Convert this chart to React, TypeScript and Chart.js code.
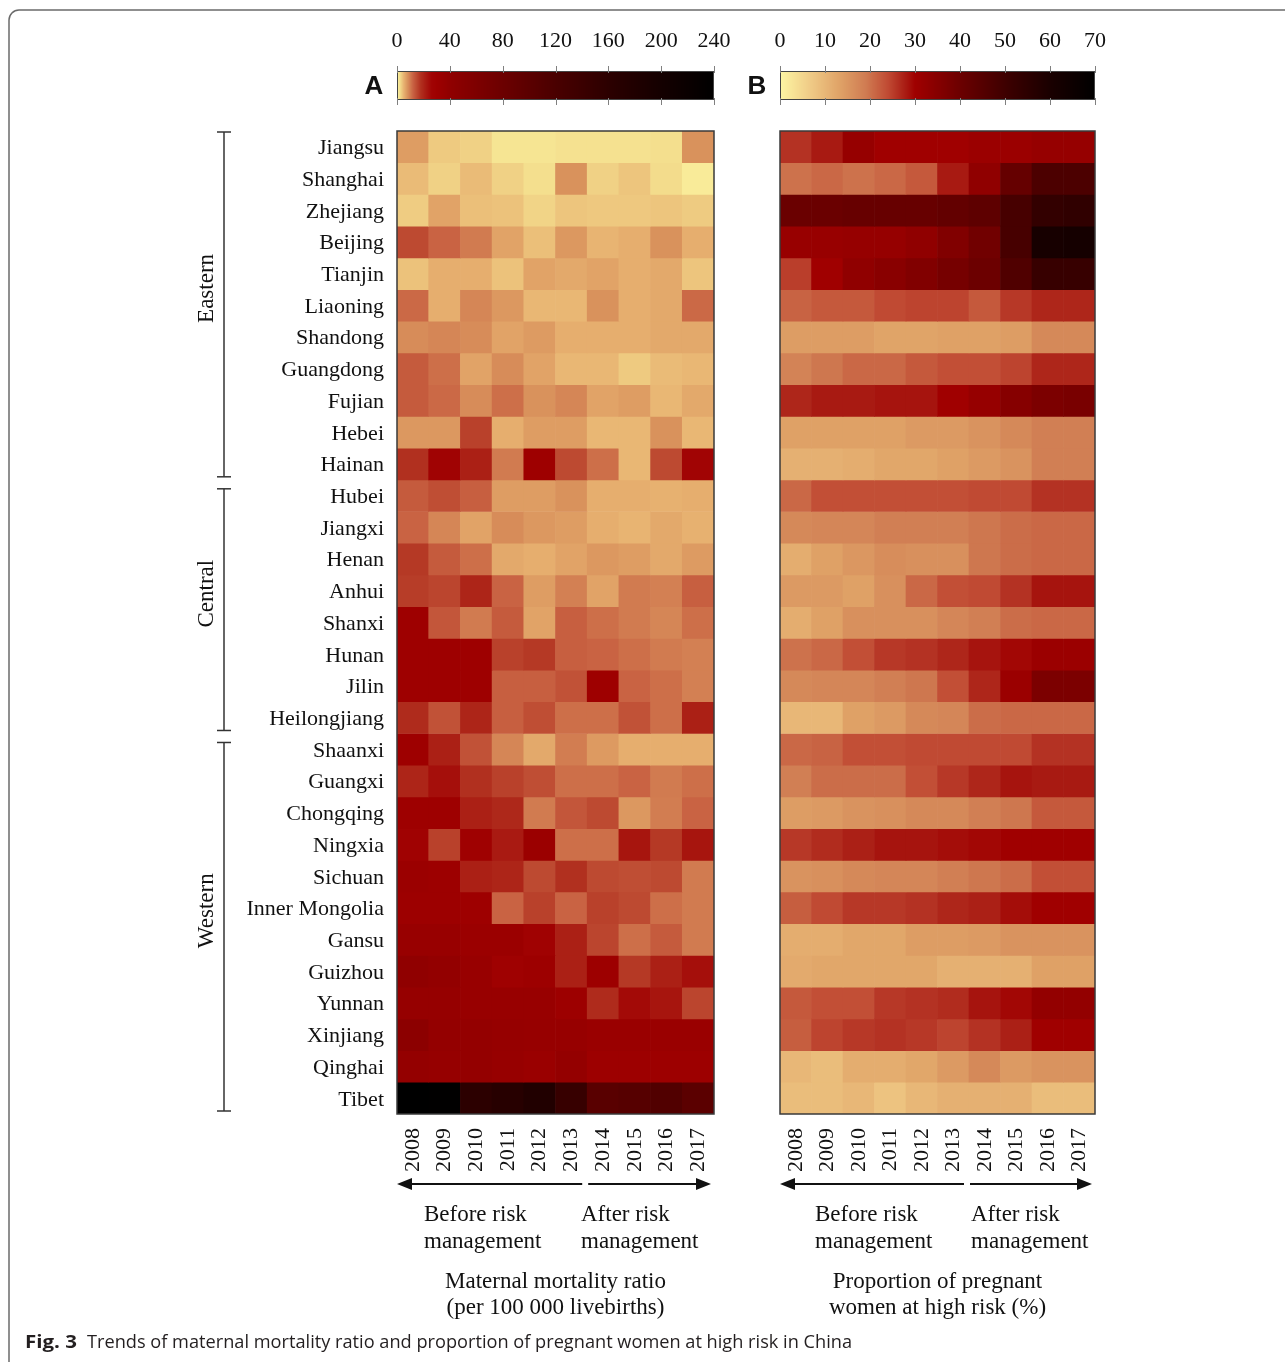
import React, { useEffect, useRef } from 'react';
import { Chart, registerables } from 'chart.js';

Chart.register(...registerables);

// ---------- data ----------
const provinces = [
  'Jiangsu', 'Shanghai', 'Zhejiang', 'Beijing', 'Tianjin', 'Liaoning', 'Shandong', 'Guangdong',
  'Fujian', 'Hebei', 'Hainan', 'Hubei', 'Jiangxi', 'Henan', 'Anhui', 'Shanxi', 'Hunan', 'Jilin',
  'Heilongjiang', 'Shaanxi', 'Guangxi', 'Chongqing', 'Ningxia', 'Sichuan', 'Inner Mongolia',
  'Gansu', 'Guizhou', 'Yunnan', 'Xinjiang', 'Qinghai', 'Tibet',
];
const years = ['2008', '2009', '2010', '2011', '2012', '2013', '2014', '2015', '2016', '2017'];
const regionNames = ['Eastern', 'Central', 'Western'];
const regionRowCounts = [11, 8, 12];
const mmrTicks = [0, 40, 80, 120, 160, 200, 240];
const riskTicks = [0, 10, 20, 30, 40, 50, 60, 70];

// Maternal mortality ratio (per 100 000 livebirths), one row per province, 2008..2017
const mmrRatio: number[][] = [
  [7, 3.5, 3, 1.5, 1.5, 1.8, 1.8, 1.8, 2, 8],
  [4.5, 3, 4.5, 3, 2, 8, 3, 3.8, 2.2, 1],
  [3.3, 6.5, 4.2, 4, 2.8, 3.8, 3.6, 3.6, 3.8, 3.4],
  [15, 12, 10, 6.5, 4.2, 7.5, 5, 5.5, 8, 5.5],
  [4, 5.5, 5.5, 4, 6.5, 6, 6.5, 5.5, 6, 3.8],
  [11.5, 5.5, 9, 7.5, 4.8, 4.8, 8, 5.5, 6, 11.5],
  [8.5, 9, 8.5, 6.5, 7.2, 5.5, 5.5, 5.5, 6, 6],
  [13, 11, 6.5, 8.5, 6.5, 4.8, 4.8, 3.5, 4.5, 4.8],
  [13, 11.5, 8.5, 11, 8, 9, 6.5, 7, 4.8, 6],
  [7.5, 7.5, 16, 5.5, 7, 7, 4.8, 4.8, 8, 4.8],
  [18, 27, 21, 10, 30, 15, 11, 4.8, 15, 26],
  [13, 14.5, 12.5, 7, 7, 8, 5.5, 5.5, 5.3, 5.5],
  [12, 9, 6.5, 8.5, 7.5, 7, 5.5, 5, 6, 5.3],
  [17, 13, 11, 6, 5.5, 6.5, 7.5, 7, 6, 7.2],
  [16.5, 15.5, 20, 12, 7, 9.5, 6.5, 10, 9.5, 12.5],
  [30, 13.5, 10, 13, 6.5, 12.5, 11, 10, 9, 11],
  [30, 30, 30, 16, 17, 12.5, 12, 11, 10, 9.5],
  [30, 30, 30, 12.5, 12.5, 14, 30, 12, 11, 9.5],
  [19, 14, 20, 12.5, 14.5, 11, 11, 14, 11, 21],
  [30, 21, 14, 9, 6, 9.8, 7.3, 5.5, 5.5, 5.5],
  [20, 24, 18, 16, 14.5, 11, 11, 12, 10, 11],
  [30, 30, 21, 19.5, 10, 13.5, 15, 7.5, 9.8, 12],
  [28, 16, 29, 22, 32, 11, 11, 23, 17, 23],
  [32, 31, 21, 20, 15, 18, 15, 14.5, 15, 10],
  [31, 31, 30, 12, 16, 12, 16, 15, 11, 10],
  [34, 34, 32, 32, 28, 21, 15.5, 11, 13, 10],
  [40, 38, 34, 29, 31, 21, 31, 17, 21, 24],
  [36, 36, 34, 34, 34, 31, 19, 25, 23, 15.5],
  [44, 37, 37, 36, 35, 35, 33, 33, 33, 33],
  [37, 36, 37, 35, 33, 37, 31, 31, 31, 31],
  [240, 238, 160, 168, 178, 145, 102, 106, 112, 100],
];

// Proportion of pregnant women at high risk (%), one row per province, 2008..2017
const highRiskPct: number[][] = [
  [26, 28, 32, 30, 30, 30, 31, 31, 32, 32],
  [20, 21, 20, 21, 22.5, 28, 33, 41.5, 47, 47],
  [40.5, 40.5, 41, 41, 41, 42, 43, 48, 53, 54],
  [31.5, 31.5, 32, 32, 33, 36, 39, 48, 61, 62],
  [25, 30, 33, 34.5, 36, 38, 40, 46, 52, 52],
  [21.5, 22.5, 22.5, 24, 24.5, 24.5, 22.5, 25.5, 27, 27],
  [14, 14, 14, 13, 13, 13.5, 13.5, 14, 17, 17],
  [18, 19.5, 21, 21, 22.5, 23.5, 23.5, 24.5, 27, 27],
  [27, 28, 28, 28.5, 28.5, 30, 32, 35, 37, 37.5],
  [13.5, 13.5, 13.5, 13.5, 14.5, 14.5, 15.5, 17, 18.5, 18.5],
  [11, 11, 11.5, 12.5, 12.5, 13.5, 14.5, 15.5, 18.5, 18.5],
  [21, 23.5, 23.5, 23.5, 23.5, 23.5, 24, 24, 26, 26],
  [17, 17.5, 17.5, 18.5, 18.5, 18.5, 19.5, 20.5, 21, 21],
  [11.5, 13.5, 15, 16.5, 16, 16, 19.5, 20.5, 21, 21],
  [14.5, 14.5, 13.5, 16, 21, 23.5, 24, 26, 28.5, 28.5],
  [11.5, 13.5, 16, 16, 16, 17.5, 18.5, 20.5, 21, 21],
  [20, 21, 23.5, 25.5, 26, 27, 28.5, 29.5, 31, 31],
  [17, 17.5, 17.5, 18.5, 19.5, 23.5, 27, 31, 37, 37],
  [10, 10, 13.5, 14.5, 17, 17.5, 20.5, 21, 21, 21],
  [21, 21.5, 23.5, 23.5, 24, 24, 24, 24, 26, 26],
  [18.5, 20.5, 20.5, 20.5, 23.5, 25.5, 27, 28.5, 28, 28],
  [14, 14.5, 15.5, 16, 17, 17, 18.5, 19.5, 22.5, 22.5],
  [25.5, 26.5, 27.5, 28.5, 28.5, 29, 29.5, 30, 30, 30],
  [15.5, 16, 17, 17.5, 17.5, 18.5, 19.5, 20.5, 23.5, 23.5],
  [22, 24, 25.5, 25.5, 26, 27, 27.5, 29, 30, 30],
  [11.5, 11.5, 12.5, 12.5, 14, 14, 14.5, 15.5, 15.5, 15.5],
  [12, 12.5, 12.5, 12.5, 12.5, 11, 11, 11, 13.5, 13.5],
  [22.5, 23.5, 23.5, 25.5, 26, 26.5, 28.5, 29.5, 32.5, 32.5],
  [22, 24.5, 25.5, 26, 25.5, 24.5, 26, 27.5, 30, 30],
  [10, 9, 11.5, 11.5, 12.5, 14.5, 17, 14.5, 15.5, 15.5],
  [9, 9, 10, 8, 10, 11, 11, 11, 9, 9],
];

// ---------- colour scales (style) ----------
type Stop = [number, string];
const mmrStops: Stop[] = [
  [0, '#fdf6a3'], [2, '#f4df8e'], [5, '#e8b472'], [8, '#d9925c'], [12, '#c96343'],
  [18, '#b1301f'], [26, '#a10404'], [30, '#9e0000'], [40, '#900000'], [80, '#6c0000'],
  [120, '#4a0000'], [160, '#2c0000'], [200, '#140000'], [240, '#000000'],
];
const riskStops: Stop[] = [
  [0, '#fdf6a3'], [7, '#efc985'], [13, '#e0a468'], [19, '#d07c52'], [24, '#c04a33'],
  [28, '#a81a12'], [30, '#a00000'], [40, '#6c0000'], [50, '#3e0000'], [60, '#1a0000'],
  [70, '#000000'],
];

function hexRgb(h: string): number[] {
  const n = parseInt(h.slice(1), 16);
  return [(n >> 16) & 255, (n >> 8) & 255, n & 255];
}
function makeColorScale(stops: Stop[]) {
  const p = stops.map(([v, c]) => [v, hexRgb(c)] as [number, number[]]);
  const toStr = (c: number[]) => `rgb(${c.map((x) => Math.round(x)).join(',')})`;
  return (v: number): string => {
    if (v <= p[0][0]) return toStr(p[0][1]);
    for (let i = 1; i < p.length; i++) {
      if (v <= p[i][0]) {
        const [v0, c0] = p[i - 1];
        const [v1, c1] = p[i];
        const t = (v - v0) / (v1 - v0);
        return toStr(c0.map((c, k) => c + (c1[k] - c) * t));
      }
    }
    return toStr(p[p.length - 1][1]);
  };
}
const mmrColor = makeColorScale(mmrStops);
const riskColor = makeColorScale(riskStops);

// ---------- layout constants ----------
const W = 1285;
const H = 1362;
const SERIF = '"Liberation Serif", "Times New Roman", serif';
const TEXT = '#111111';

interface DecorOpts {
  letter: string;
  colorOf: (v: number) => string;
  groups: boolean;
  page: boolean;
  beforeOffset: number;
  afterOffset: number;
  title: [string, string];
}

function line(ctx: CanvasRenderingContext2D, x1: number, y1: number, x2: number, y2: number) {
  ctx.beginPath();
  ctx.moveTo(x1, y1);
  ctx.lineTo(x2, y2);
  ctx.stroke();
}

function fitText(ctx: CanvasRenderingContext2D, text: string, x: number, y: number, width: number) {
  const w = ctx.measureText(text).width;
  ctx.save();
  ctx.translate(x, y);
  ctx.scale(width / w, 1);
  ctx.fillText(text, 0, 0);
  ctx.restore();
}

function makeDecor(d: DecorOpts) {
  return {
    id: 'decor' + d.letter,
    beforeDraw(chart: any) {
      if (!d.page) return;
      const ctx = chart.ctx as CanvasRenderingContext2D;
      ctx.save();
      ctx.fillStyle = '#ffffff';
      ctx.fillRect(0, 0, chart.width, chart.height);
      ctx.restore();
    },
    afterDraw(chart: any) {
      const ctx = chart.ctx as CanvasRenderingContext2D;
      const ca = chart.chartArea;
      const xs = chart.scales.x;
      const ys = chart.scales.y;
      const top = chart.scales.xTop;
      ctx.save();

      // heat-map frame
      ctx.strokeStyle = '#3a3a3a';
      ctx.lineWidth = 1.5;
      ctx.strokeRect(ca.left, ca.top, ca.right - ca.left, ca.bottom - ca.top);

      // colour bar
      const cbTop = ca.top - 60;
      const cbBot = ca.top - 31;
      for (let px = Math.floor(top.left); px < Math.ceil(top.right); px++) {
        ctx.fillStyle = d.colorOf(top.getValueForPixel(px + 0.5));
        ctx.fillRect(px, cbTop, 1, cbBot - cbTop);
      }
      ctx.strokeStyle = '#444';
      ctx.lineWidth = 1;
      ctx.strokeRect(top.left + 0.5, cbTop + 0.5, top.right - top.left - 1, cbBot - cbTop - 1);
      ctx.strokeStyle = '#808080';
      top.ticks.forEach((t: any) => {
        const x = Math.round(top.getPixelForValue(t.value)) + 0.5;
        line(ctx, x, cbTop - 5, x, cbTop + 2);
        line(ctx, x, cbBot - 2, x, cbBot + 5);
      });

      // panel letter
      ctx.fillStyle = '#111';
      ctx.font = `bold 26px "Liberation Sans", Arial, sans-serif`;
      ctx.textAlign = 'center';
      ctx.textBaseline = 'middle';
      ctx.fillText(d.letter, ca.left - 23, (cbTop + cbBot) / 2 + 1);

      // arrows
      const split = (xs.getPixelForTick(5) + xs.getPixelForTick(6)) / 2;
      const ay = ca.bottom + 70;
      ctx.strokeStyle = '#111';
      ctx.fillStyle = '#111';
      ctx.lineWidth = 2;
      line(ctx, ca.left + 8, ay, split - 5, ay);
      line(ctx, split + 1, ay, ca.right - 12, ay);
      const head = (tip: number, dir: number) => {
        ctx.beginPath();
        ctx.moveTo(tip, ay);
        ctx.lineTo(tip - dir * 15, ay - 6);
        ctx.lineTo(tip - dir * 15, ay + 6);
        ctx.closePath();
        ctx.fill();
      };
      head(ca.left, -1);
      head(ca.right - 3, 1);

      // before / after text
      ctx.font = `23px ${SERIF}`;
      ctx.fillStyle = TEXT;
      ctx.textAlign = 'left';
      ctx.textBaseline = 'middle';
      ctx.fillText('Before risk', ca.left + d.beforeOffset, ca.bottom + 101);
      ctx.fillText('management', ca.left + d.beforeOffset, ca.bottom + 128);
      ctx.fillText('After risk', ca.left + d.afterOffset, ca.bottom + 101);
      ctx.fillText('management', ca.left + d.afterOffset, ca.bottom + 128);

      // axis title
      ctx.textAlign = 'center';
      const cx = (ca.left + ca.right) / 2;
      ctx.fillText(d.title[0], cx, ca.bottom + 168);
      ctx.fillText(d.title[1], cx, ca.bottom + 194);

      // region brackets
      if (d.groups) {
        const bx = ca.left - 173;
        let start = 0;
        ctx.strokeStyle = '#333';
        ctx.lineWidth = 1.5;
        regionNames.forEach((name, g) => {
          const end = start + regionRowCounts[g];
          const y1 = ys.getPixelForValue(start) + (g === 0 ? 1 : 9);
          const y2 = ys.getPixelForValue(end) - 3;
          line(ctx, bx, y1, bx, y2);
          line(ctx, bx - 7, y1, bx + 7, y1);
          line(ctx, bx - 7, y2, bx + 7, y2);
          ctx.save();
          ctx.translate(bx - 17, (y1 + y2) / 2 - 16);
          ctx.rotate(-Math.PI / 2);
          ctx.textAlign = 'center';
          ctx.textBaseline = 'middle';
          ctx.fillStyle = TEXT;
          ctx.font = `23px ${SERIF}`;
          ctx.fillText(name, 0, 0);
          ctx.restore();
          start = end;
        });
      }

      // page frame and caption
      if (d.page) {
        ctx.strokeStyle = '#6b6b6b';
        ctx.lineWidth = 1.5;
        ctx.beginPath();
        ctx.moveTo(9, H + 2);
        ctx.lineTo(9, 20);
        ctx.arcTo(9, 10, 19, 10, 10);
        ctx.lineTo(W + 2, 10);
        ctx.stroke();

        ctx.fillStyle = '#231f20';
        ctx.textAlign = 'left';
        ctx.textBaseline = 'middle';
        ctx.font = `bold 18px "Open Sans", "Noto Sans", sans-serif`;
        fitText(ctx, 'Fig. 3', 25, 1343, 52);
        ctx.font = `18px "Open Sans", "Noto Sans", sans-serif`;
        fitText(ctx, 'Trends of maternal mortality ratio and proportion of pregnant women at high risk in China', 87, 1343, 765);
      }
      ctx.restore();
    },
  };
}

interface PanelOpts {
  values: number[][];
  colorOf: (v: number) => string;
  showRows: boolean;
  padLeft: number;
  padRight: number;
  cbTicks: number[];
  decor: DecorOpts;
}

function buildConfig(o: PanelOpts): any {
  const cbMax = o.cbTicks[o.cbTicks.length - 1];
  const cbStep = o.cbTicks[1] - o.cbTicks[0];
  return {
    type: 'bar',
    data: {
      labels: years,
      datasets: provinces.map((p, i) => ({
        label: p,
        data: years.map(() => [i, i + 1]),
        backgroundColor: o.values[i].map(o.colorOf),
        borderWidth: 0,
        grouped: false,
        barPercentage: 1,
        categoryPercentage: 1,
      })),
    },
    options: {
      responsive: false,
      animation: false,
      devicePixelRatio: 1,
      events: [],
      layout: { padding: { left: o.padLeft, right: o.padRight, top: 0, bottom: 0 } },
      plugins: { legend: { display: false }, tooltip: { enabled: false }, title: { display: false } },
      scales: {
        x: {
          type: 'category',
          position: 'bottom',
          grid: { display: false, drawTicks: false },
          border: { display: false },
          ticks: {
            minRotation: 90,
            maxRotation: 90,
            autoSkip: false,
            padding: 14,
            color: TEXT,
            font: { family: SERIF, size: 22 },
          },
          afterFit: (s: any) => {
            s.height = 248;
          },
        },
        y: {
          type: 'linear',
          display: o.showRows,
          min: 0,
          max: provinces.length,
          reverse: true,
          grid: { display: false, drawTicks: false },
          border: { display: false },
          afterBuildTicks: (s: any) => {
            s.ticks = provinces.map((_, i) => ({ value: i + 0.55 }));
          },
          ticks: {
            autoSkip: false,
            padding: 13,
            color: TEXT,
            font: { family: SERIF, size: 22 },
            callback: (_v: any, idx: number) => provinces[idx],
          },
          afterFit: (s: any) => {
            s.width = o.showRows ? 397 : 0;
          },
        },
        xTop: {
          type: 'linear',
          axis: 'x',
          position: 'top',
          offset: false,
          min: 0,
          max: cbMax,
          grid: { display: false, drawTicks: false, offset: false },
          border: { display: false },
          afterBuildTicks: (s: any) => {
            s.ticks = o.cbTicks.map((v) => ({ value: v }));
          },
          ticks: {
            stepSize: cbStep,
            autoSkip: false,
            maxRotation: 0,
            padding: 77,
            color: TEXT,
            font: { family: SERIF, size: 22 },
          },
          afterFit: (s: any) => {
            s.height = 131;
          },
        },
      },
    },
    plugins: [makeDecor(o.decor)],
  };
}

export default function App() {
  const refA = useRef<HTMLCanvasElement>(null);
  const refB = useRef<HTMLCanvasElement>(null);

  useEffect(() => {
    const a = new Chart(
      refA.current as HTMLCanvasElement,
      buildConfig({
        values: mmrRatio,
        colorOf: mmrColor,
        showRows: true,
        padLeft: 0,
        padRight: W - 714,
        cbTicks: mmrTicks,
        decor: {
          letter: 'A',
          colorOf: mmrColor,
          groups: true,
          page: true,
          beforeOffset: 27,
          afterOffset: 184,
          title: ['Maternal mortality ratio', '(per 100 000 livebirths)'],
        },
      })
    );
    const b = new Chart(
      refB.current as HTMLCanvasElement,
      buildConfig({
        values: highRiskPct,
        colorOf: riskColor,
        showRows: false,
        padLeft: 780,
        padRight: W - 1095,
        cbTicks: riskTicks,
        decor: {
          letter: 'B',
          colorOf: riskColor,
          groups: false,
          page: false,
          beforeOffset: 35,
          afterOffset: 191,
          title: ['Proportion of pregnant', 'women at high risk (%)'],
        },
      })
    );
    return () => {
      a.destroy();
      b.destroy();
    };
  }, []);

  const canvasStyle: React.CSSProperties = { position: 'absolute', left: 0, top: 0, width: W, height: H };
  return (
    <div style={{ position: 'absolute', left: 0, top: 0, width: W, height: H, overflow: 'hidden' }}>
      <canvas ref={refA} width={W} height={H} style={canvasStyle} />
      <canvas ref={refB} width={W} height={H} style={canvasStyle} />
    </div>
  );
}
